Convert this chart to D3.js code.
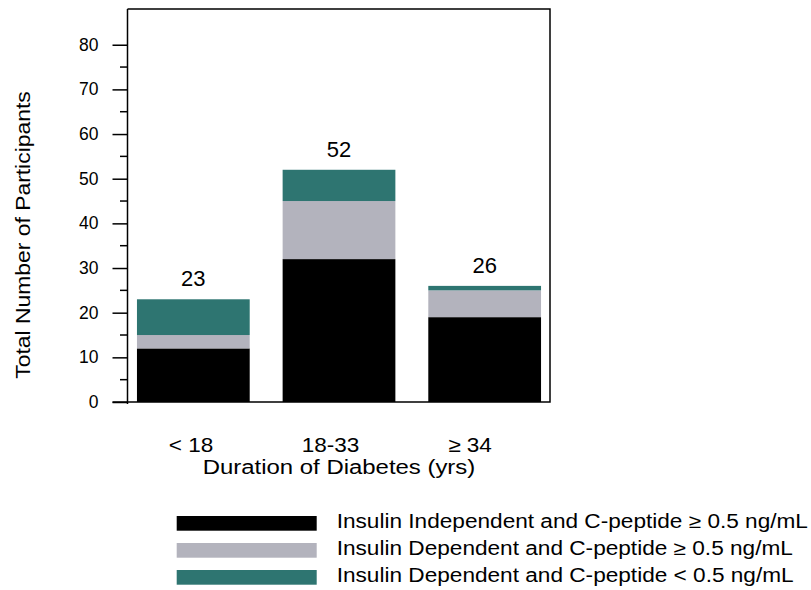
<!DOCTYPE html>
<html>
<head>
<meta charset="utf-8">
<script src="https://cdn.jsdelivr.net/npm/d3@7"></script>
<style>
  body { margin: 0; background: #fff; }
  svg { display: block; font-family: "Liberation Sans", Arial, sans-serif; }
</style>
</head>
<body>
<script>
// Datos
const categories = ["< 18", "18-33", "≥ 34"];
const seriesNames = [
  "Insulin Independent and C-peptide ≥ 0.5 ng/mL",
  "Insulin Dependent and C-peptide ≥ 0.5 ng/mL",
  "Insulin Dependent and C-peptide < 0.5 ng/mL"
];
const independentHigh = [12, 32, 19];
const dependentHigh = [3, 13, 6];
const dependentLow = [8, 7, 1];
const totals = [23, 52, 26];
const yTicks = [0, 10, 20, 30, 40, 50, 60, 70, 80];
const yMinorTicks = [5, 15, 25, 35, 45, 55, 65, 75];

const colors = ["#000000", "#b3b3bd", "#2e7571"];

const width = 811, height = 590;
const svg = d3.select("body").append("svg")
  .attr("width", width)
  .attr("height", height);

// Escalas
const y = d3.scaleLinear().domain([0, 88]).range([402, 9]);
const x = d3.scaleBand().domain(categories)
  .range([120.5, 557.5])
  .paddingInner(0.226)
  .paddingOuter(0.113);
const xLabel = d3.scalePoint().domain(categories).range([191, 470]);

// Pilas
const rows = categories.map((c, i) => ({
  cat: c,
  s0: independentHigh[i],
  s1: dependentHigh[i],
  s2: dependentLow[i]
}));
const stack = d3.stack().keys(["s0", "s1", "s2"])(rows);

svg.append("g")
  .selectAll("g")
  .data(stack)
  .join("g")
  .attr("fill", (d, i) => colors[i])
  .selectAll("rect")
  .data(d => d)
  .join("rect")
  .attr("x", d => x(d.data.cat))
  .attr("width", x.bandwidth())
  .attr("y", d => y(d[1]))
  .attr("height", d => y(d[0]) - y(d[1]));

// Totales
svg.append("g")
  .selectAll("text")
  .data(categories)
  .join("text")
  .attr("x", d => x(d) + x.bandwidth() / 2)
  .attr("y", (d, i) => y(totals[i]) - 13)
  .attr("text-anchor", "middle")
  .attr("font-size", 22)
  .text((d, i) => totals[i]);

// Marco: arriba, derecha y abajo
svg.append("path")
  .attr("fill", "none")
  .attr("stroke", "#000")
  .attr("stroke-width", 1.5)
  .attr("d", `M127.5,${y(88)}H550V${y(0)}H112.5`);

// Eje Y
const yAxis = d3.axisLeft(y)
  .tickValues(yTicks)
  .tickSize(15)
  .tickPadding(14)
  .tickSizeOuter(0);
const gy = svg.append("g")
  .attr("transform", "translate(127.5,0)")
  .call(yAxis);
gy.select(".domain").attr("stroke-width", 1.5).attr("d", `M0,${y(88)}V${y(0) + 2}`);
gy.selectAll(".tick line").attr("stroke-width", 1.5);
gy.selectAll(".tick text")
  .attr("font-size", 17.5)
  .attr("font-family", "Liberation Sans, Arial, sans-serif")
  .attr("fill", "#000");

// Ticks menores
svg.append("g")
  .selectAll("line")
  .data(yMinorTicks)
  .join("line")
  .attr("x1", 120)
  .attr("x2", 127.5)
  .attr("y1", d => y(d))
  .attr("y2", d => y(d))
  .attr("stroke", "#000")
  .attr("stroke-width", 1.5);

// Etiquetas de categorías
svg.append("g")
  .selectAll("text")
  .data(categories)
  .join("text")
  .attr("transform", d => `translate(${xLabel(d)},452) scale(1.1,1)`)
  .attr("text-anchor", "middle")
  .attr("font-size", 20.5)
  .text(d => d);

// Títulos
svg.append("text")
  .attr("transform", "translate(339,473.5) scale(1.14,1)")
  .attr("text-anchor", "middle")
  .attr("font-size", 21)
  .text("Duration of Diabetes (yrs)");

svg.append("text")
  .attr("transform", "translate(30,235) rotate(-90) scale(1.09,1)")
  .attr("text-anchor", "middle")
  .attr("font-size", 21)
  .text("Total Number of Participants");

// Leyenda
const legend = svg.append("g").attr("transform", "translate(176.7,516)");
legend.selectAll("g")
  .data(seriesNames)
  .join("g")
  .attr("transform", (d, i) => `translate(0, ${i * 27})`)
  .call(g => {
    g.append("rect")
      .attr("width", 140)
      .attr("height", 14.7)
      .attr("fill", (d, i) => colors[i]);
    g.append("text")
      .attr("transform", "translate(160,11.7) scale(1.16,1)")
      .attr("font-size", 19.5)
      .text(d => d);
  });
</script>
</body>
</html>
